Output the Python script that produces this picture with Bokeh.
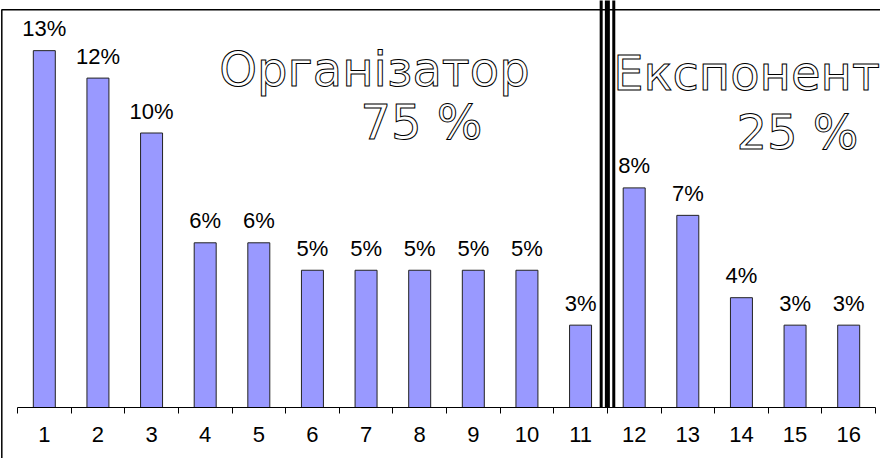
from bokeh.plotting import figure
from bokeh.models import Range1d, LinearAxis, FixedTicker, ColumnDataSource
from bokeh.core.properties import value
from bokeh.embed import file_html
from bokeh.resources import INLINE

# ---- data ----
categories = [str(i) for i in range(1, 17)]
shares = [13, 12, 10, 6, 6, 5, 5, 5, 5, 5, 3, 8, 7, 4, 3, 3]
bar_labels = [f"{v}%" for v in shares]
group_titles = ["Організатор", "75 %", "Експонент", "25 %"]
split_after = 11  # organiser group = categories 1..11

# ---- layout constants (pixels) ----
W, H = 880, 458
PX_X = 53.625   # px per category
PX_Y = 27.45    # px per percent
BASE_CY = 407   # canvas y of the zero line
FIRST_TICK_CX = 17  # canvas x of the first category boundary

x0 = 0.5 - FIRST_TICK_CX / PX_X
x1 = x0 + W / PX_X
y1 = BASE_CY / PX_Y
y0 = -(H - BASE_CY) / PX_Y


def dx(cx):
    return x0 + cx / PX_X


def dy(cy):
    return y1 - cy / PX_Y


p = figure(width=W, height=H, x_range=Range1d(x0, x1), y_range=Range1d(y0, y1),
           output_backend="svg", toolbar_location=None,
           x_axis_type=None, y_axis_type=None,
           min_border_left=0, min_border_right=0, min_border_top=0, min_border_bottom=0)
p.outline_line_color = None
p.background_fill_color = "white"
p.border_fill_color = "white"

n = len(categories)
xs = list(range(1, n + 1))

# axis with boundary ticks
tick_axis = LinearAxis(ticker=FixedTicker(ticks=[i + 0.5 for i in range(0, n + 1)]),
                       fixed_location=0, bounds=(0.5, n + 0.5))
tick_axis.major_label_text_color = None
tick_axis.major_label_text_font_size = "1px"
tick_axis.major_tick_in = 0
tick_axis.major_tick_out = 6
tick_axis.minor_tick_line_color = None
tick_axis.axis_line_color = "black"
tick_axis.major_tick_line_color = "black"
p.add_layout(tick_axis, "below")

# axis with category labels
label_axis = LinearAxis(ticker=FixedTicker(ticks=xs), fixed_location=0,
                        major_label_overrides={x: c for x, c in zip(xs, categories)})
label_axis.axis_line_color = None
label_axis.major_tick_line_color = None
label_axis.minor_tick_line_color = None
label_axis.major_tick_in = 0
label_axis.major_tick_out = 0
label_axis.major_label_standoff = 19
label_axis.major_label_text_font = "Liberation Sans"
label_axis.major_label_text_font_size = "22px"
label_axis.major_label_text_color = "black"
p.add_layout(label_axis, "below")

src = ColumnDataSource(dict(x=xs, share=shares, label=bar_labels))
p.vbar(x="x", top="share", width=0.41, source=src,
       fill_color="#9999FF", line_color="#222222", line_width=1)
p.text(x="x", y="share", text="label", source=src, y_offset=-22,
       text_align="center", text_baseline="alphabetic",
       text_font=value("Liberation Sans"), text_font_size="22px", text_color="black")

# chart border (left and top)
bx = dx(1.3)
by = dy(9.3)
p.line(x=[bx, bx, x1 + 1], y=[y0 - 1, by, by], line_color="black", line_width=1.5)

# separator between groups
sep = split_after + 0.5
sep_px = [(-6.2, 3), (0, 5), (6.4, 3)]
for off, w in sep_px:
    p.segment(x0=[sep + off / PX_X], y0=[0], x1=[sep + off / PX_X], y1=[y1 + 1],
              line_color="black", line_width=w, line_cap="butt")

# outlined group titles
title_cx = [374, 421, 746, 797]
title_cy = [68, 121, 72, 131]
p.text(x=[dx(c) for c in title_cx], y=[dy(c) for c in title_cy], text=group_titles,
       text_align="center", text_baseline="alphabetic",
       text_font=value("DejaVu Sans"), text_font_size="48px",
       text_color="white", text_outline_color="black")

open("out.html", "w").write(file_html(p, INLINE))
